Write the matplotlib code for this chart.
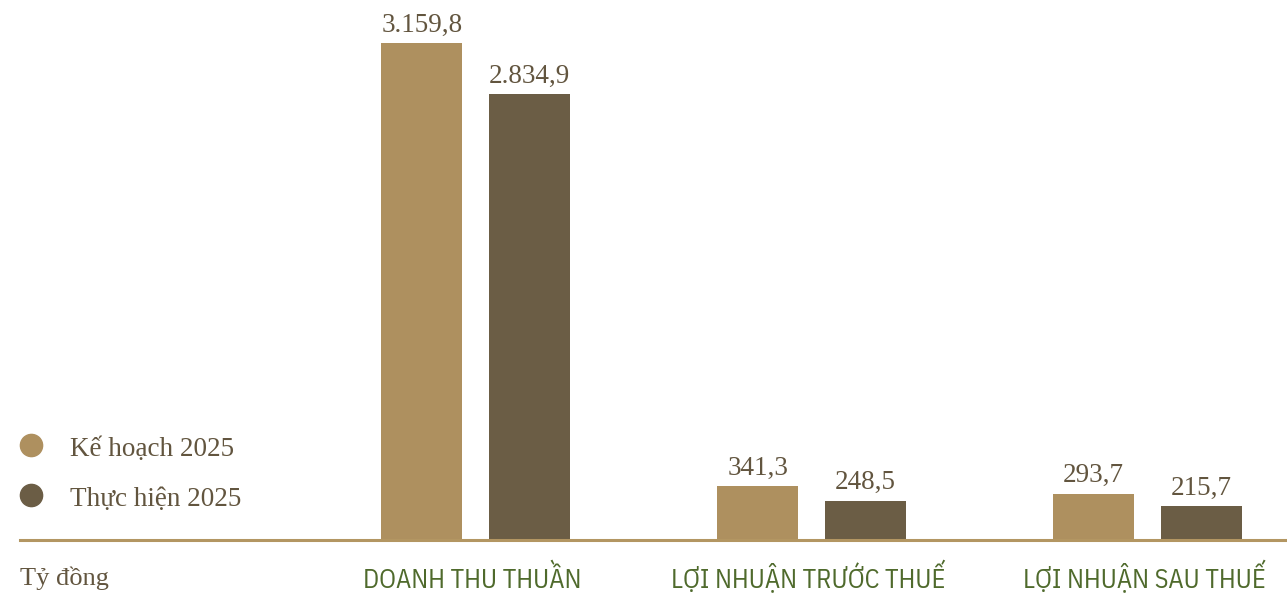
import matplotlib
matplotlib.use("Agg")
import matplotlib.pyplot as plt
from matplotlib.lines import Line2D
from matplotlib.transforms import offset_copy

categories = ["DOANH THU THUẦN", "LỢI NHUẬN TRƯỚC THUẾ", "LỢI NHUẬN SAU THUẾ"]
series_names = ["Kế hoạch 2025", "Thực hiện 2025"]
ke_hoach = [3159.8, 341.3, 293.7]
thuc_hien = [2834.9, 248.5, 215.7]
unit_label = "Tỷ đồng"

def fmt(v):
    s = f"{v:,.1f}"
    return s.replace(",", "X").replace(".", ",").replace("X", ".")

W, H = 1287, 594
fig = plt.figure(figsize=(W / 100, H / 100), dpi=100)
fig.patch.set_facecolor("white")
ax = fig.add_axes([20 / W, 54 / H, 1267 / W, 540 / H])
ax.set_facecolor("none")

c_plan = "#ae905f"
c_act = "#6b5d45"
c_text = "#62553f"
c_green = "#4f6a2c"
c_line = "#b39662"

serif = ["Liberation Serif", "DejaVu Serif"]
narrow = ["IBM Plex Sans Condensed", "Open Sans Condensed", "DejaVu Sans"]

width = 0.242
off = 0.16
x = list(range(len(categories)))
b1 = ax.bar([i - off for i in x], ke_hoach, width, color=c_plan, zorder=2)
b2 = ax.bar([i + off for i in x], thuc_hien, width, color=c_act, zorder=2)

for bars, vals in ((b1, ke_hoach), (b2, thuc_hien)):
    for b, v in zip(bars, vals):
        ax.annotate(fmt(v), (b.get_x() + b.get_width() / 2, v),
                    xytext=(0, 4), textcoords="offset points",
                    ha="center", va="bottom", fontsize=19.5,
                    family=serif, color=c_text)

ax.set_xlim(-1.3557, 2.4152)
ax.set_ylim(0, 3433)
for s in ax.spines.values():
    s.set_visible(False)
ax.axhline(0, color=c_line, lw=2.2, zorder=3, clip_on=False)
ax.set_xticks([])
ax.set_yticks([])

lab_tr = offset_copy(ax.get_xaxis_transform(), fig=fig, x=0, y=-48, units="dots")
for i, c in enumerate(categories):
    ax.text(i - 0.01, 0, c, transform=lab_tr,
            ha="center", va="baseline", fontsize=19, color=c_green,
            family=narrow, fontweight="normal", fontstretch="condensed")

unit_tr = offset_copy(ax.transAxes, fig=fig, x=0, y=-38, units="dots")
ax.text(0.0, 0.0, unit_label, transform=unit_tr, ha="left", va="center",
        fontsize=19, family=serif, color=c_text)

# legend drawn manually in figure pixel coordinates
leg_y = [445, 495]
for yy, name, col in zip(leg_y, series_names, [c_plan, c_act]):
    fig.add_artist(Line2D([31 / W], [1 - yy / H], marker="o", ls="none",
                          ms=16, color=col, transform=fig.transFigure))
    fig.text(70 / W, 1 - (yy + 11) / H, name, ha="left", va="baseline",
             fontsize=19.5, family=serif, color=c_text)

fig.savefig("out.png", dpi=100)
